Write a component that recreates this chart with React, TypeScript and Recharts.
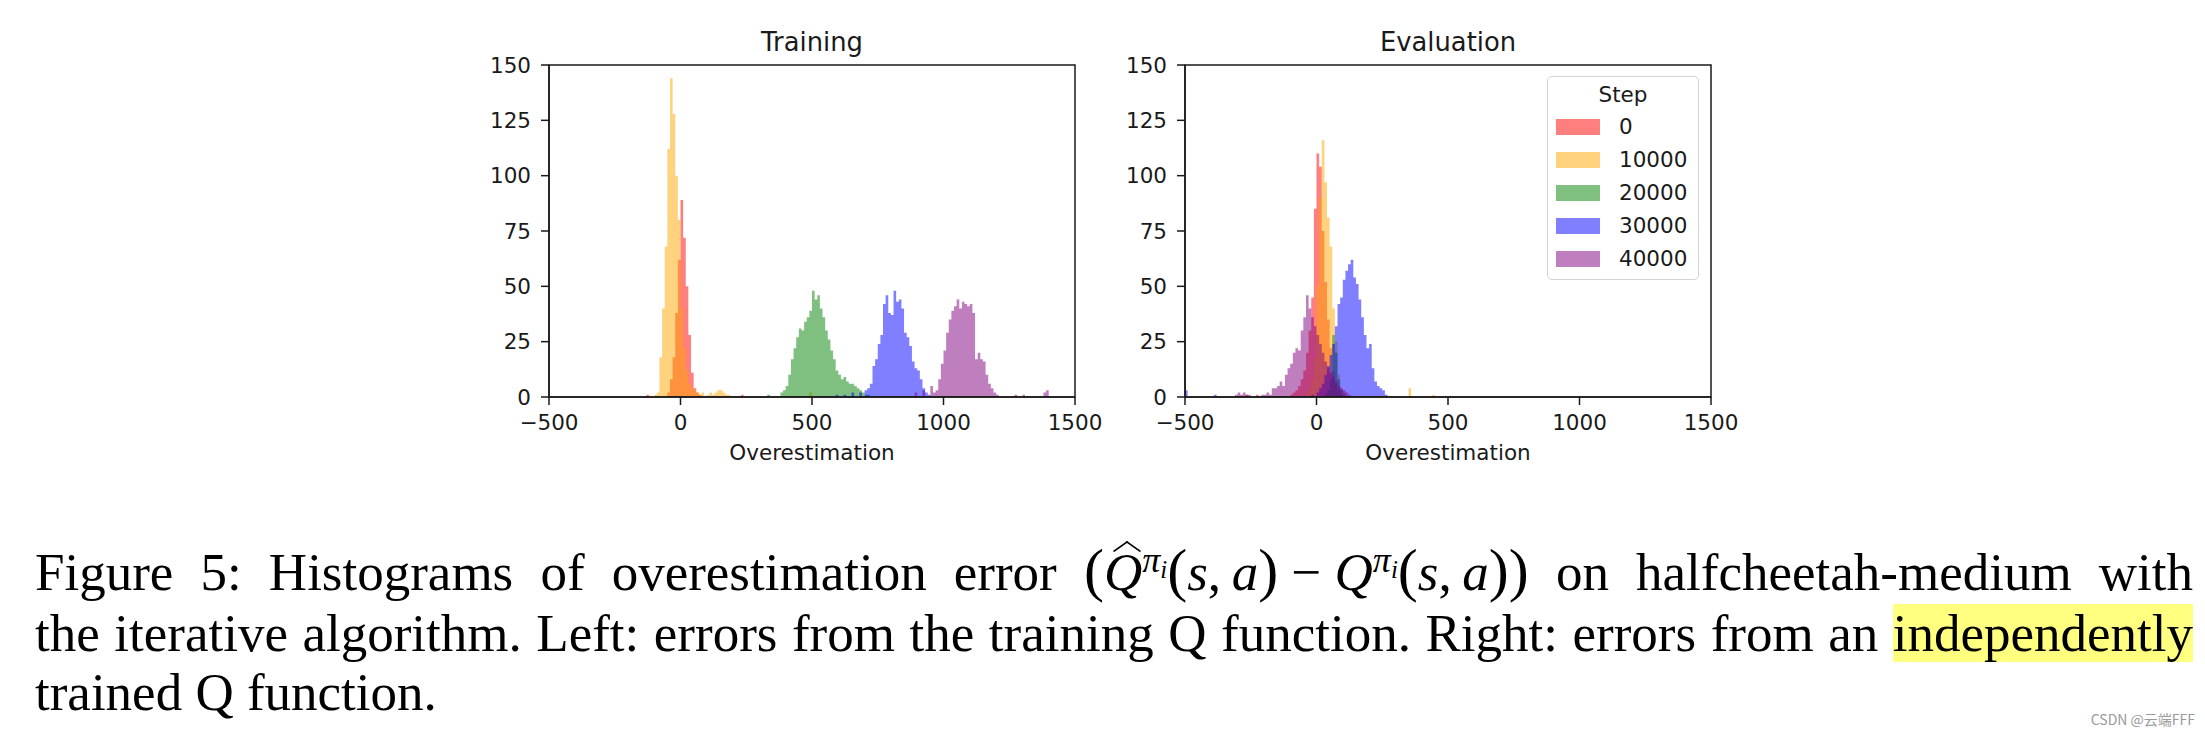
import { ComposedChart, Area, XAxis, YAxis, ReferenceArea } from 'recharts';

// histogram bins are 10 units wide; each series = first bin edge + counts
const BIN = 10;
const X_TICKS = [-500, 0, 500, 1000, 1500];
const Y_TICKS = [0, 25, 50, 75, 100, 125, 150];
const STEPS = ['0', '10000', '20000', '30000', '40000'];
const COLORS = ['#ff0000', '#ffa500', '#008000', '#0000ff', '#800080'];

// Training
const trainRedStart = -130;
const trainRed = [1, 0, 0, 0, 0, 0, 0, 0, 2, 8, 18, 38, 62, 89, 72, 50, 28, 11, 4, 2, 1];
const trainOrangeStart = -100;
const trainOrange = [1, 2, 18, 40, 68, 112, 144, 128, 100, 80, 40, 22, 12, 6, 4, 3, 2, 1, 2, 0, 1, 2, 1, 2, 3, 3, 2, 1, 1];
const trainGreenStart = 330;
const trainGreen = [1, 0, 0, 0, 0, 2, 3, 5, 10, 17, 22, 27, 31, 30, 34, 36, 39, 48, 44, 46, 40, 36, 30, 26, 21, 17, 12, 10, 8, 9, 7, 6, 6, 5, 4, 3, 2, 1, 1];
const trainBlueStart = 590;
const trainBlue = [1, 0, 0, 1, 0, 0, 2, 0, 0, 2, 0, 3, 4, 6, 14, 17, 24, 28, 42, 46, 38, 37, 48, 43, 44, 40, 29, 27, 23, 16, 13, 12, 8, 4, 2, 1];
const trainPurpleStart = 890;
const trainPurple = [2, 0, 0, 3, 0, 0, 5, 2, 3, 8, 15, 21, 29, 35, 39, 41, 44, 40, 43, 42, 41, 42, 38, 17, 20, 17, 16, 10, 6, 4, 2, 1];
const trainStrays = [
  { step: 0, x: 230, n: 1 },
  { step: 1, x: 490, n: 2 },
  { step: 4, x: 1270, n: 1 },
  { step: 4, x: 1300, n: 1 },
  { step: 4, x: 1380, n: 2 },
  { step: 4, x: 1390, n: 3 },
];

// Evaluation
const evalRedStart = -100;
const evalRed = [1, 2, 3, 5, 8, 12, 20, 30, 45, 85, 110, 104, 75, 52, 35, 22, 12, 6, 3, 1];
const evalOrangeStart = -40;
const evalOrange = [2, 4, 8, 18, 50, 90, 116, 97, 81, 68, 40, 25, 10, 4, 2];
const evalGreenStart = 30;
const evalGreen = [1, 3, 8, 28, 20, 8, 3, 1];
const evalBlueStart = -20;
const evalBlue = [1, 0, 2, 4, 6, 10, 14, 19, 24, 32, 42, 45, 53, 57, 60, 62, 54, 51, 44, 36, 28, 22, 24, 13, 7, 5, 4, 3, 1];
const evalPurpleStart = -310;
const evalPurple = [1, 2, 1, 2, 1, 1, 0, 0, 0, 0, 1, 1, 2, 1, 4, 4, 5, 7, 5, 10, 13, 15, 20, 22, 21, 30, 36, 46, 40, 36, 32, 28, 24, 20, 16, 13, 11, 9, 7, 5, 4, 3, 2, 1];
const evalStrays = [
  { step: 3, x: -500, n: 3 },
  { step: 3, x: -390, n: 1 },
  { step: 0, x: -270, n: 1 },
  { step: 0, x: -230, n: 1 },
  { step: 1, x: 350, n: 4 },
  { step: 1, x: 440, n: 1 },
];

type Series = { start: number; counts: number[] };
type Stray = { step: number; x: number; n: number };

function buildRows(series: Series[], strays: Stray[]) {
  const rows: any[] = [];
  for (let x = -500; x <= 1500; x += BIN) {
    const row: any = { x };
    series.forEach((s, i) => {
      const k = Math.round((x - s.start) / BIN);
      row['s' + i] = k >= 0 && k < s.counts.length ? s.counts[k] : 0;
    });
    rows.push(row);
  }
  strays.forEach((st) => {
    const r = rows.find((row) => row.x === st.x);
    if (r) r['s' + st.step] += st.n;
  });
  return rows;
}

const trainRows = buildRows(
  [
    { start: trainRedStart, counts: trainRed },
    { start: trainOrangeStart, counts: trainOrange },
    { start: trainGreenStart, counts: trainGreen },
    { start: trainBlueStart, counts: trainBlue },
    { start: trainPurpleStart, counts: trainPurple },
  ],
  trainStrays
);

const evalRows = buildRows(
  [
    { start: evalRedStart, counts: evalRed },
    { start: evalOrangeStart, counts: evalOrange },
    { start: evalGreenStart, counts: evalGreen },
    { start: evalBlueStart, counts: evalBlue },
    { start: evalPurpleStart, counts: evalPurple },
  ],
  evalStrays
);

const FONT = '"DejaVu Sans", sans-serif';
const SERIF = '"Liberation Serif", "Times New Roman", serif';
const INK = '#1a1a1a';
const TICK_FS = 21.5;

const PANEL_W = 660;
const PANEL_H = 480;

const fmt = (v: number) => String(v).replace('-', '\u2212');

function HistPanel({ rows, title, left, marginLeft }: { rows: any[]; title: string; left: number; marginLeft: number }) {
  const plotLeft = left + marginLeft + 60;
  return (
    <>
      <div
        style={{
          position: 'absolute',
          left: plotLeft,
          width: 526,
          top: 27,
          textAlign: 'center',
          fontFamily: FONT,
          fontSize: 25.8,
          lineHeight: '30px',
          color: INK,
        }}
      >
        {title}
      </div>
      <div style={{ position: 'absolute', left, top: 0, width: PANEL_W, height: PANEL_H }}>
        <ComposedChart
          width={PANEL_W}
          height={PANEL_H}
          data={rows}
          margin={{ top: 65, right: PANEL_W - marginLeft - 60 - 526, bottom: 43, left: marginLeft }}
        >
          <XAxis
            dataKey="x"
            type="number"
            domain={[-500, 1500]}
            ticks={X_TICKS}
            interval={0}
            height={40}
            tickSize={8}
            tickMargin={10}
            tickFormatter={fmt}
            axisLine={{ stroke: INK, strokeWidth: 1.5 }}
            tickLine={{ stroke: INK, strokeWidth: 1.5 }}
            tick={{ fill: INK, fontSize: TICK_FS, fontFamily: FONT }}
          />
          <YAxis
            type="number"
            domain={[0, 150]}
            ticks={Y_TICKS}
            interval={0}
            width={60}
            tickSize={8}
            tickMargin={10}
            axisLine={{ stroke: INK, strokeWidth: 1.5 }}
            tickLine={{ stroke: INK, strokeWidth: 1.5 }}
            tick={{ fill: INK, fontSize: TICK_FS, fontFamily: FONT }}
          />
          {STEPS.map((s, i) => (
            <Area
              key={s}
              dataKey={'s' + i}
              name={s}
              type="stepAfter"
              fill={COLORS[i]}
              fillOpacity={0.5}
              stroke="none"
              dot={false}
              activeDot={false}
              isAnimationActive={false}
            />
          ))}
          <ReferenceArea x1={-500} x2={1500} y1={0} y2={150} fill="none" stroke={INK} strokeWidth={1.5} />
        </ComposedChart>
      </div>
      <div
        style={{
          position: 'absolute',
          left: plotLeft,
          width: 526,
          top: 440,
          textAlign: 'center',
          fontFamily: FONT,
          fontSize: TICK_FS,
          lineHeight: '26px',
          color: INK,
        }}
      >
        Overestimation
      </div>
    </>
  );
}

function StepLegend() {
  return (
    <div
      style={{
        position: 'absolute',
        left: 1547,
        top: 76,
        width: 152,
        height: 204,
        boxSizing: 'border-box',
        border: '1.5px solid #d4d4d4',
        borderRadius: 5,
        background: 'rgba(255,255,255,0.8)',
        fontFamily: FONT,
        fontSize: TICK_FS,
        color: INK,
      }}
    >
      <div style={{ position: 'absolute', left: 0, width: '100%', top: 5, textAlign: 'center', lineHeight: '26px' }}>Step</div>
      {STEPS.map((s, i) => (
        <div key={s} style={{ position: 'absolute', left: 0, width: '100%', top: 37 + i * 33, height: 26 }}>
          <div style={{ position: 'absolute', left: 8, top: 5, width: 44, height: 16, background: COLORS[i], opacity: 0.5 }} />
          <div style={{ position: 'absolute', left: 71, top: 0, lineHeight: '26px' }}>{s}</div>
        </div>
      ))}
    </div>
  );
}

const Paren = ({ c }: { c: string }) => <span style={{ fontSize: 60 }}>{c}</span>;

// widehat drawn as a flattened chevron so it doesn't collide with the glyph box
const QPi = ({ hat }: { hat?: boolean }) => (
  <>
    <span style={{ position: 'relative', fontStyle: 'italic' }}>
      Q
      {hat && (
        <span
          style={{
            position: 'absolute',
            left: 13,
            top: -2,
            width: 20,
            height: 20,
            boxSizing: 'border-box',
            borderTop: '2.5px solid #000',
            borderLeft: '2.5px solid #000',
            transform: 'scaleY(0.7) rotate(45deg)',
          }}
        />
      )}
    </span>
    <span style={{ fontSize: 36, verticalAlign: 18, lineHeight: 0 }}>
      <i>π</i>
      <span style={{ fontSize: 25, verticalAlign: -6 }}>
        <i>i</i>
      </span>
    </span>
  </>
);

const captionLine: any = {
  position: 'absolute',
  left: 35,
  width: 2158,
  fontFamily: SERIF,
  fontSize: 53,
  lineHeight: '60px',
  height: 60,
  whiteSpace: 'nowrap',
  color: '#000',
};

export default function App() {
  return (
    <div style={{ position: 'absolute', left: 0, top: 0, width: 2205, height: 735, background: '#fff', overflow: 'hidden' }}>
      <HistPanel rows={trainRows} title="Training" left={460} marginLeft={29} />
      <HistPanel rows={evalRows} title="Evaluation" left={1100} marginLeft={25} />
      <StepLegend />

      <div style={{ ...captionLine, top: 540, textAlign: 'justify', textAlignLast: 'justify' }}>
        Figure 5: Histograms of overestimation error <Paren c="(" />
        <QPi hat />
        <Paren c="(" />
        <i>s</i>,{'\u2009'}
        <i>a</i>
        <Paren c=")" />
        {'\u2005\u2212\u2005'}
        <QPi />
        <Paren c="(" />
        <i>s</i>,{'\u2009'}
        <i>a</i>
        <Paren c=")" />
        <Paren c=")" /> on halfcheetah-medium with
      </div>
      <div style={{ ...captionLine, top: 603, textAlign: 'justify', textAlignLast: 'justify' }}>
        the iterative algorithm. Left: errors from the training Q function. Right: errors from an{' '}
        <span style={{ background: '#ffff80' }}>independently</span>
      </div>
      <div style={{ ...captionLine, top: 662 }}>trained Q function.</div>

      <div
        style={{
          position: 'absolute',
          right: 10,
          top: 709,
          fontFamily: '"Noto Sans CJK SC", "Noto Sans", sans-serif',
          fontSize: 14,
          color: '#9a9a9a',
        }}
      >
        CSDN @云端FFF
      </div>
    </div>
  );
}
